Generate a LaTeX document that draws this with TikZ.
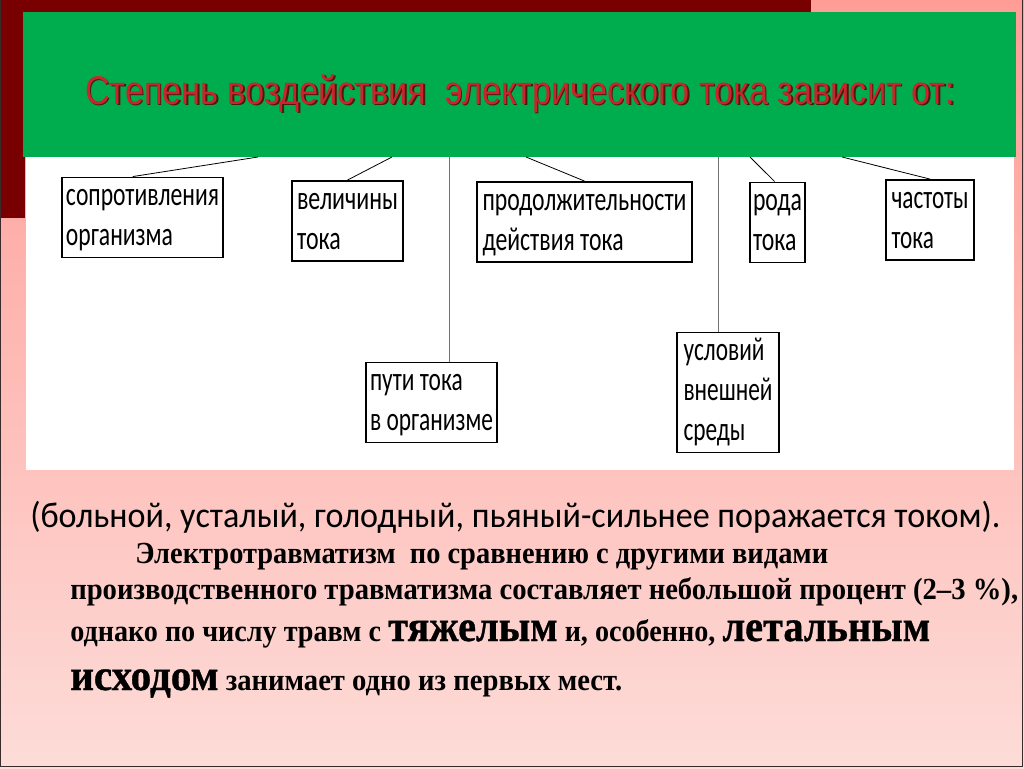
\documentclass[tikz,border=0pt]{standalone}
\usepackage{fontspec}
\usepackage{graphicx}
\setmainfont{Liberation Serif}
\newfontfamily\calfont{Carlito}
\newfontfamily\arifont{Liberation Sans}
\newfontfamily\tnrfont{Liberation Serif}
\newfontfamily\tnrheavy{Liberation Serif Bold}[FakeBold=0.8]
\usetikzlibrary{calc}
\definecolor{maroon}{HTML}{780000}
\definecolor{slgreen}{HTML}{00AD4E}
\definecolor{tred}{HTML}{C8262B}
\definecolor{tshadow}{HTML}{4A1A10}
\definecolor{pinktop}{HTML}{FF9C96}
\definecolor{pinkmid}{HTML}{F9B9B7}
\definecolor{pinkbot}{HTML}{FDDCD8}
\definecolor{edge}{HTML}{3A2A2A}
\newcommand{\bxt}[2]{\resizebox{#1}{\height}{\calfont\fontsize{25}{30}\selectfont\begin{tabular}{@{}l@{}}#2\end{tabular}}}
\newcommand{\ttltext}{Степень воздействия\ \ электрического тока зависит от:}
\newcommand{\bigw}[1]{{\tnrheavy\fontsize{33}{36}\selectfont #1}}
\tikzset{
  box/.style={draw=black, line width=1.4pt, fill=white, inner sep=0pt},
  link/.style={draw=black, line width=0.6pt},
  vlink/.style={draw=black!55, line width=0.7pt},
  txt/.style={anchor=base west, inner sep=0pt}
}
\begin{document}
\begin{tikzpicture}[x=0.75pt,y=-0.75pt]
\useasboundingbox (0,0) rectangle (1024,768);
% background
\shade[top color=pinktop, middle color=pinkmid, bottom color=pinkbot] (0,0) rectangle (1024,768);
\fill[maroon] (0,0) rectangle (811,12);
\fill[maroon] (0,0) rectangle (25,218);
\fill[white] (26,150) rectangle (1014,470);
% frame lines
\draw[edge, line width=0.9pt] (0.6,0) -- (0.6,766.5) -- (1022.5,766.5) -- (1022.5,0);
% header
\node[fill=slgreen, minimum width=744.75pt, minimum height=108.75pt, inner sep=0pt] (head) at (519.5,84.5) {};
\node[anchor=base, inner sep=0pt] (title) at (520,104) {\resizebox{652.5pt}{\height}{\arifont\fontsize{30}{34}\selectfont\rlap{\hspace{1.4pt}\raisebox{-1.4pt}{\color{tshadow}\ttltext}}\color{tred}\ttltext}};
% boxes
\node[box, minimum width=120.75pt, minimum height=59.25pt] (b1) at (142.5,217.5) {\bxt{114.75pt}{сопротивления\\организма}};
\node[box, minimum width=83.25pt, minimum height=55.5pt] (b2) at (347.5,221) {\bxt{75.75pt}{величины\\тока}};
\node[box, minimum width=161.25pt, minimum height=60pt] (b3) at (584.5,222) {\bxt{153pt}{продолжительности\\действия тока}};
\node[box, minimum width=41.25pt, minimum height=56.25pt] (b4) at (777.5,222.5) {\bxt{36.75pt}{рода\\тока}};
\node[box, minimum width=66pt, minimum height=58.5pt] (b5) at (930,220) {\bxt{57.75pt}{частоты\\тока}};
\node[box, minimum width=98.25pt, minimum height=56.25pt] (b6) at (431.5,402.5) {\bxt{92.25pt}{пути тока\\в организме}};
\node[box, minimum width=76.5pt, minimum height=89.25pt] (b7) at (728,392.5) {\bxt{66.75pt}{условий\\внешней\\среды}};
% connector start points on the header
\coordinate (t1) at (258,157);
\coordinate (t2) at (392,157);
\coordinate (t3) at (449,157);
\coordinate (t4) at (526,157);
\coordinate (t5) at (718,157);
\coordinate (t6) at (750,157);
\coordinate (t7) at (842,157);
\draw[link] (t1) -- ($(b1.north west)!0.44!(b1.north east)$);
\draw[link] (t2) -- (b2.north);
\draw[vlink] (t3) -- (t3 |- b6.north);
\draw[link] (t4) -- (b3.north);
\draw[vlink] (t5) -- (t5 |- b7.north);
\draw[link] (t6) -- ($(b4.north west)!0.45!(b4.north east)$);
\draw[link] (t7) -- (b5.north);
% lower text
\node[txt] (la) at (30,527) {\resizebox{727.5pt}{\height}{\calfont\fontsize{27}{30}\selectfont (больной, усталый, голодный, пьяный-сильнее поражается током).}};
\node[txt] (lb) at (135,563) {\resizebox{519.75pt}{\height}{\tnrfont\bfseries\fontsize{23}{26}\selectfont Электротравматизм\ \ по сравнению с другими видами}};
\node[txt] (lc) at (70,599) {\resizebox{711pt}{\height}{\tnrfont\bfseries\fontsize{23}{26}\selectfont производственного травматизма составляет небольшой процент (2–3 \%),}};
\node[txt] (ld) at (70,641) {\resizebox{645pt}{\height}{\tnrfont\bfseries\fontsize{23}{26}\selectfont однако по числу травм с \bigw{тяжелым} и, особенно, \bigw{летальным}}};
\node[txt] (le) at (70,690) {\resizebox{414pt}{\height}{\tnrfont\bfseries\fontsize{23}{26}\selectfont \bigw{исходом} занимает одно из первых мест.}};
\end{tikzpicture}
\end{document}
